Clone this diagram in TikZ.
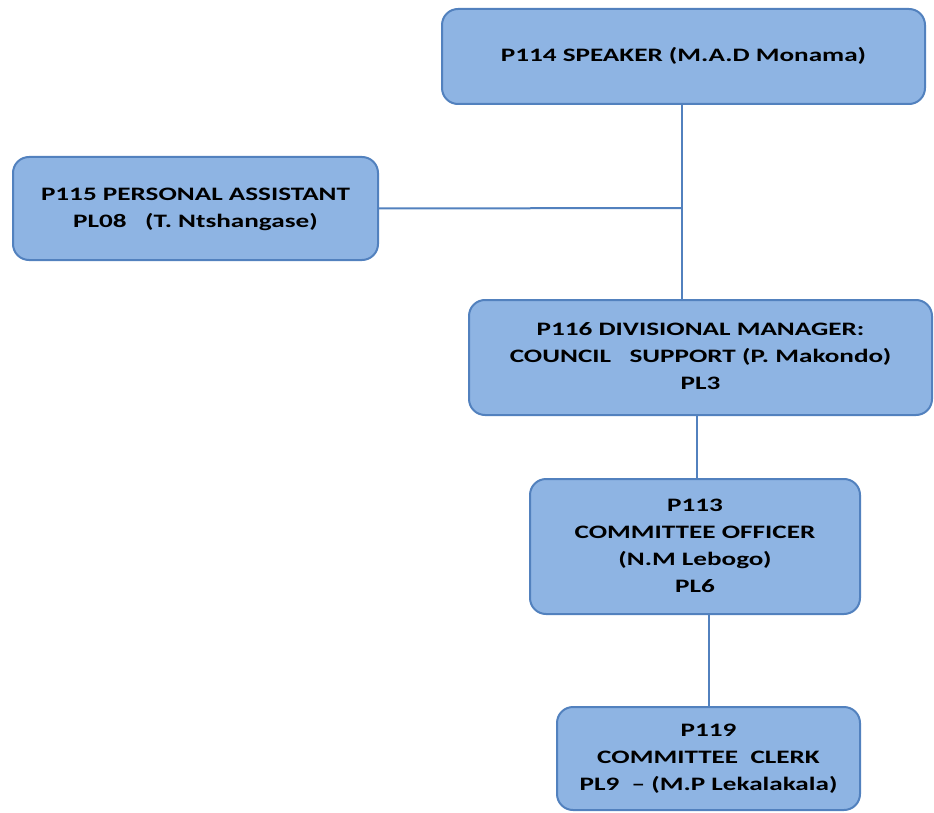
\documentclass[tikz,border=0pt]{standalone}
\usepackage{fontspec}
\setmainfont{Carlito}
\definecolor{boxfill}{RGB}{142,180,227}
\definecolor{boxline}{RGB}{82,129,190}
% widened label text, one or more centred lines
\newcommand{\postlabel}[1]{\scalebox{1.43}[1]{\begin{tabular}{@{}c@{}}#1\end{tabular}}}
\begin{document}
\begin{tikzpicture}[x=1pt,y=-1pt,
  post/.style={draw=boxline,fill=boxfill,line width=2pt,rounded corners=16pt,
    inner sep=0pt,align=center,font=\bfseries\fontsize{19}{27}\selectfont},
  link/.style={draw=boxline,line width=2pt}]
\useasboundingbox (0,0) rectangle (934,813);
\renewcommand{\arraystretch}{1}
\node[post,minimum width=483pt,minimum height=95pt] (spk) at (683.5,56.5) {\postlabel{P114 SPEAKER (M.A.D Monama)}};
\node[post,minimum width=365pt,minimum height=103pt] (pa) at (195.5,208.5) {\postlabel{P115 PERSONAL ASSISTANT\\PL08\ \ \ (T. Ntshangase)}};
\node[post,minimum width=463pt,minimum height=115pt] (dm) at (700.5,357.5) {\postlabel{P116 DIVISIONAL MANAGER:\\COUNCIL\ \ \ SUPPORT (P. Makondo)\\PL3}};
\node[post,minimum width=330pt,minimum height=135pt] (co) at (695,546.5) {\postlabel{P113\\COMMITTEE OFFICER\\(N.M Lebogo)\\PL6}};
\node[post,minimum width=303pt,minimum height=103pt] (clk) at (708.5,758.5) {\postlabel{P119\\COMMITTEE\ \ CLERK\\PL9\ \ -- (M.P Lekalakala)}};
\coordinate (jp) at (682,208);
\draw[link] (682,0 |- spk.south) -- (682,0 |- dm.north);
\draw[link] (pa.east) -- (jp);
\draw[link] (697,0 |- dm.south) -- (697,0 |- co.north);
\draw[link] (709,0 |- co.south) -- (709,0 |- clk.north);
\end{tikzpicture}
\end{document}
